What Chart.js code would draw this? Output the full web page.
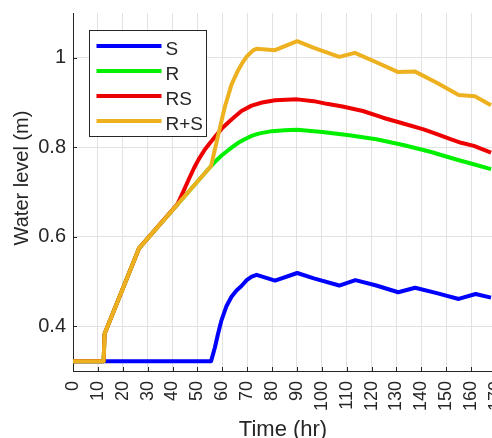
<!DOCTYPE html>
<html>
<head>
<meta charset="utf-8">
<title>Water level</title>
<script src="https://cdn.jsdelivr.net/npm/chart.js@4/dist/chart.umd.min.js"></script>
<style>
  html, body { margin: 0; padding: 0; background: #fff; overflow: hidden; }
  #wrap { position: relative; width: 492px; height: 438px; overflow: hidden; }
  #chart { position: absolute; left: 0; top: 0; }
</style>
</head>
<body>
<div id="wrap"><canvas id="chart" width="520" height="450"></canvas></div>
<script>
// ── Data ──
const xTickValues = [0, 10, 20, 30, 40, 50, 60, 70, 80, 90, 100, 110, 120, 130, 140, 150, 160, 170];
const yTickValues = [0.4, 0.6, 0.8, 1.0];

const timeS  = [0, 55.5, 57, 58.2, 59.6, 61.6, 63.7, 65.7, 67.7, 69.8, 71.8, 73.8, 81.2, 90.1, 96.8, 107, 113.5, 121.9, 130.7, 137.5, 146.2, 155, 161.8, 168];
const levelS = [0.322, 0.322, 0.352, 0.381, 0.412, 0.444, 0.466, 0.480, 0.490, 0.503, 0.511, 0.515, 0.502, 0.519, 0.507, 0.491, 0.503, 0.491, 0.476, 0.486, 0.474, 0.461, 0.472, 0.464];

const timeR  = [0, 12.3, 12.7, 26.5, 55.5, 57.5, 59.6, 61.6, 63.7, 66.4, 69, 72, 75, 79.9, 85, 90.1, 100.2, 111, 121.9, 132.7, 143.6, 154.4, 161, 168];
const levelR = [0.322, 0.322, 0.383, 0.574, 0.758, 0.770, 0.781, 0.790, 0.799, 0.810, 0.818, 0.826, 0.831, 0.836, 0.838, 0.839, 0.834, 0.827, 0.818, 0.805, 0.790, 0.772, 0.762, 0.751];

const timeRS  = [0, 12.3, 12.7, 26.5, 42, 44, 46.5, 48.5, 50.5, 53, 56, 60, 63.7, 67.7, 71.8, 76, 81.2, 90.1, 96.8, 102, 108.3, 116.5, 124.6, 132.7, 140.9, 146, 151.7, 156, 161.1, 168];
const levelRS = [0.322, 0.322, 0.383, 0.574, 0.673, 0.697, 0.728, 0.752, 0.773, 0.795, 0.816, 0.843, 0.862, 0.881, 0.893, 0.900, 0.905, 0.907, 0.903, 0.897, 0.891, 0.881, 0.866, 0.853, 0.840, 0.830, 0.818, 0.810, 0.803, 0.788];

const timeRplusS  = [0, 12.3, 12.7, 26.5, 55.5, 57, 58.9, 61, 63.7, 66, 68, 70, 72.5, 73.8, 81.2, 90.1, 96.8, 107, 113.3, 121.9, 130.7, 137.5, 146.2, 155, 161.5, 168];
const levelRplusS = [0.322, 0.322, 0.383, 0.574, 0.758, 0.795, 0.840, 0.890, 0.940, 0.968, 0.988, 1.004, 1.017, 1.020, 1.017, 1.037, 1.022, 1.002, 1.011, 0.990, 0.968, 0.969, 0.944, 0.917, 0.914, 0.894];

const xTitle = 'Time (hr)';
const yTitle = 'Water level (m)';

// ── Chart defaults ──
const FONT = "'Liberation Sans', Arial, Helvetica, sans-serif";
const INK = '#262626';
Chart.defaults.font.family = FONT;
Chart.defaults.color = INK;

const pts = (ts, vs) => ts.map((t, i) => ({ x: t, y: vs[i] }));

function lineSet(label, ts, vs, color, order) {
  return {
    label,
    data: pts(ts, vs),
    borderColor: color,
    backgroundColor: color,
    borderWidth: 4,
    pointRadius: 0,
    tension: 0,
    fill: false,
    borderJoinStyle: 'round',
    order,
  };
}

// no automatic label padding: the axes box is fixed
function noPad(s) {
  s.paddingTop = 0;
  s.paddingBottom = 0;
  s.paddingLeft = 0;
  s.paddingRight = 0;
}

// ── Legend box inside the axes (MATLAB style) ──
const boxLegend = {
  id: 'boxLegend',
  afterDraw(chart) {
    const ctx = chart.ctx;
    const sets = chart.data.datasets;
    ctx.save();
    ctx.fillStyle = '#fff';
    ctx.fillRect(89.5, 30.5, 117, 106);
    ctx.strokeStyle = INK;
    ctx.lineWidth = 1;
    ctx.strokeRect(89.5, 30.5, 117, 106);
    ctx.font = `19px ${FONT}`;
    ctx.textAlign = 'left';
    ctx.textBaseline = 'alphabetic';
    sets.forEach((ds, i) => {
      const ly = 46 + i * 25;
      ctx.strokeStyle = ds.borderColor;
      ctx.lineWidth = 4;
      ctx.beginPath();
      ctx.moveTo(96.5, ly);
      ctx.lineTo(161.5, ly);
      ctx.stroke();
      ctx.fillStyle = INK;
      ctx.fillText(ds.label, 165.5, 55 + i * 25);
    });
    ctx.restore();
  },
};

// ── Inward tick marks + axis titles ──
const axisExtras = {
  id: 'axisExtras',
  afterDraw(chart) {
    const ctx = chart.ctx;
    const { left, bottom } = chart.chartArea;
    const xs = chart.scales.x, ys = chart.scales.y;
    ctx.save();
    ctx.strokeStyle = INK;
    ctx.lineWidth = 1;
    ctx.beginPath();
    xTickValues.forEach(v => {
      const px = Math.round(xs.getPixelForValue(v)) + 0.5;
      ctx.moveTo(px, bottom);
      ctx.lineTo(px, bottom - 4);
    });
    yTickValues.forEach(v => {
      const py = Math.round(ys.getPixelForValue(v)) + 0.5;
      ctx.moveTo(left, py);
      ctx.lineTo(left + 4, py);
    });
    ctx.stroke();

    ctx.fillStyle = INK;
    ctx.font = `22px ${FONT}`;
    ctx.textAlign = 'center';
    ctx.textBaseline = 'alphabetic';
    ctx.fillText(xTitle, 283, 436);

    ctx.font = `20px ${FONT}`;
    ctx.translate(28, 178);
    ctx.rotate(-Math.PI / 2);
    ctx.fillText(yTitle, 0, 0);
    ctx.restore();
  },
};

new Chart(document.getElementById('chart'), {
  type: 'line',
  data: {
    datasets: [
      lineSet('S', timeS, levelS, '#0000ff', 3),
      lineSet('R', timeR, levelR, '#00f000', 2),
      lineSet('RS', timeRS, levelRS, '#ee0000', 1),
      lineSet('R+S', timeRplusS, levelRplusS, '#edb120', 0),
    ],
  },
  options: {
    responsive: false,
    animation: false,
    layout: { padding: { top: 13, right: 24, left: 0, bottom: 0 } },
    plugins: {
      legend: { display: false },
      tooltip: { enabled: false },
      title: { display: false },
    },
    scales: {
      x: {
        type: 'linear',
        min: 0,
        max: 170,
        afterBuildTicks: s => { s.ticks = xTickValues.map(v => ({ value: v })); },
        afterFit: s => { s.height = 79; noPad(s); },
        ticks: {
          autoSkip: false,
          minRotation: 90,
          maxRotation: 90,
          padding: 10,
          color: INK,
          font: { size: 18 },
        },
        grid: { color: '#e2e2e2', drawTicks: false },
        border: { display: true, color: INK, width: 1 },
      },
      y: {
        type: 'linear',
        min: 0.3,
        max: 1.1,
        afterBuildTicks: s => { s.ticks = yTickValues.map(v => ({ value: v })); },
        afterFit: s => { s.width = 73; noPad(s); },
        ticks: {
          padding: 7,
          color: INK,
          font: { size: 20 },
          callback: v => String(+v.toFixed(1)),
        },
        grid: { color: '#e2e2e2', drawTicks: false },
        border: { display: true, color: INK, width: 1 },
      },
    },
  },
  plugins: [axisExtras, boxLegend],
});
</script>
</body>
</html>
